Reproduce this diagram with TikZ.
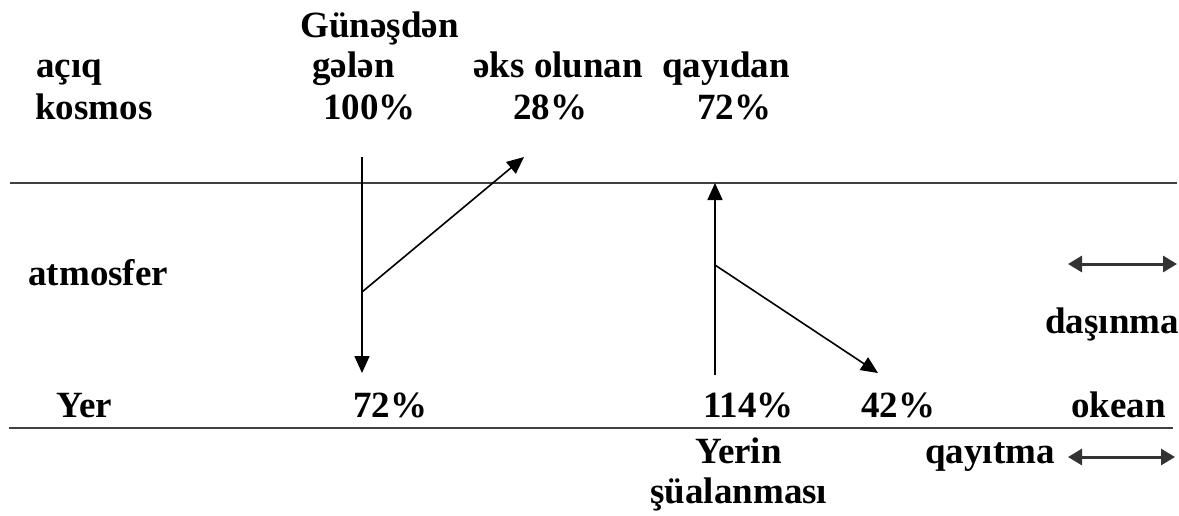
\documentclass[tikz,border=0pt]{standalone}
\usepackage{fontspec}
\setmainfont{Liberation Serif}
\usetikzlibrary{arrows.meta}
\begin{document}
\begin{tikzpicture}[x=0.5pt,y=-0.5pt,
  lbl/.style={anchor=base west,inner sep=0pt,font=\fontsize{18.5}{20}\selectfont\bfseries},
  level/.style={line width=1.4pt,draw=black!75},
  flow/.style={line width=0.8pt,-{Triangle[length=8.5pt,width=7.5pt]}},
  both/.style={line width=1.5pt,draw=black!80,{Triangle[length=7pt,width=8pt]}-{Triangle[length=7pt,width=8pt]}}]
\useasboundingbox (0,0) rectangle (1179,515);
% levels
\coordinate (L1a) at (10,183); \coordinate (L1b) at (1177,183);
\coordinate (L2a) at (9,428);  \coordinate (L2b) at (1173,428);
\draw[level] (L1a) -- (L1b);
\draw[level] (L2a) -- (L2b);
% texts top
\node[lbl] (gun) at (300,37) {Günəşdən};
\node[lbl] (acq) at (36,77) {açıq};
\node[lbl] (gel) at (312,77) {gələn};
\node[lbl] (eks) at (473,77) {əks olunan};
\node[lbl] (qay) at (662,77) {qayıdan};
\node[lbl] (kos) at (35,119) {kosmos};
\node[lbl] (p100) at (323,119) {100\%};
\node[lbl] (p28) at (513,119) {28\%};
\node[lbl] (p72a) at (697,119) {72\%};
% middle
\node[lbl] (atm) at (28,285) {atmosfer};
\node[lbl] (das) at (1045,333) {daşınma};
% bottom row
\node[lbl] (yer) at (56,417) {Yer};
\node[lbl] (p72b) at (353,417) {72\%};
\node[lbl] (p114) at (703,417) {114\%};
\node[lbl] (p42) at (861,417) {42\%};
\node[lbl] (oke) at (1071,417) {okean};
\node[lbl] (yerin) at (695,463) {Yerin};
\node[lbl] (sua) at (650,503) {şüalanması};
\node[lbl] (qyt) at (925,463) {qayıtma};
% flows
\coordinate (s1) at (362,157); \coordinate (e1) at (362,373);
\coordinate (b1) at (362,292); \coordinate (t28) at (524,157);
\coordinate (e2) at (715,375); \coordinate (t72) at (715,183);
\coordinate (b2) at (715,265); \coordinate (t42) at (878,373);
\draw[flow] (s1) -- (e1);
\draw[flow] (b1) -- (t28);
\draw[flow] (e2) -- (t72);
\draw[flow] (b2) -- (t42);
% double arrows
\coordinate (d1a) at (1068,264); \coordinate (d1b) at (1177,264);
\coordinate (d2a) at (1068,457); \coordinate (d2b) at (1175,457);
\draw[both] (d1a) -- (d1b);
\draw[both] (d2a) -- (d2b);
\end{tikzpicture}
\end{document}
